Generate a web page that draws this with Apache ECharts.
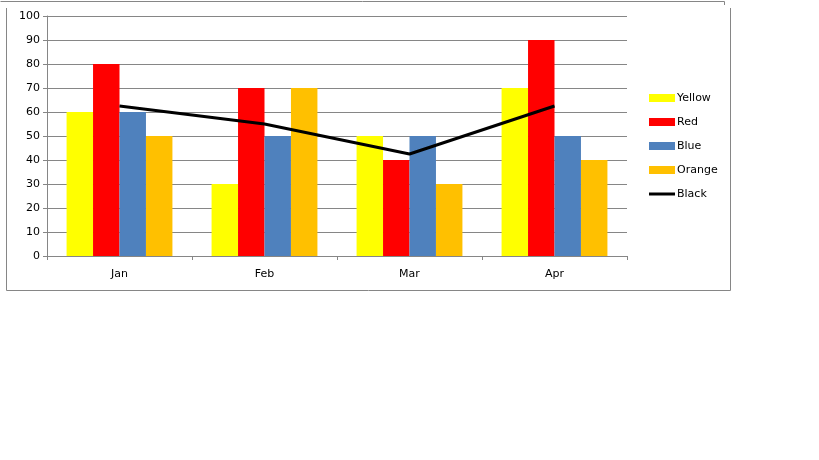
<!DOCTYPE html>
<html><head><meta charset="utf-8">
<script src="https://cdn.jsdelivr.net/npm/echarts@6/dist/echarts.min.js"></script>
<style>html,body{margin:0;padding:0;background:#fff}#c{width:819px;height:460px}</style>
</head><body><div id="c"></div>
<script>
const categories = ['Jan', 'Feb', 'Mar', 'Apr'];
const yellow = [60, 30, 50, 70];
const red = [80, 70, 40, 90];
const blue = [60, 50, 50, 50];
const orange = [50, 70, 30, 40];
const black = [62.5, 55, 42.5, 62.5];

const chart = echarts.init(document.getElementById('c'));
const font = 'DejaVu Sans';
const gray = '#868686';
function bar(name, data, color) {
  return { name, type: 'bar', data, barGap: '0%', barCategoryGap: '27%',
    itemStyle: { color }, emphasis: { disabled: true } };
}
const legendText = { fontFamily: font, fontSize: 11, color: '#000', lineHeight: 14, padding: [0, 0, 0, -3] };
chart.setOption({
  animation: false,
  textStyle: { fontFamily: font },
  graphic: [
    { type: 'polyline', shape: { points: [[0.5, 1.5], [724.5, 1.5], [724.5, 5]] }, style: { stroke: gray, lineWidth: 1, fill: null } },
    { type: 'polyline', shape: { points: [[6.5, 8], [6.5, 290.5], [730.5, 290.5], [730.5, 8]] }, style: { stroke: gray, lineWidth: 1, fill: null } }
  ],
  grid: { left: 47, right: 192, top: 16, bottom: 204 },
  legend: [{
    orient: 'vertical', left: 649, top: 91, padding: 0, itemWidth: 26, itemHeight: 8, itemGap: 10,
    icon: 'rect', textStyle: legendText,
    data: ['Yellow', 'Red', 'Blue', 'Orange']
  }, {
    orient: 'vertical', left: 649, top: 187, padding: 0, itemWidth: 26, itemHeight: 3,
    icon: 'rect', textStyle: legendText,
    data: ['Black']
  }],
  xAxis: {
    type: 'category', data: categories,
    axisLine: { lineStyle: { color: gray } },
    axisTick: { show: true, length: 4, lineStyle: { color: gray } },
    axisLabel: { color: '#000', fontSize: 11, fontFamily: font, margin: 13 }
  },
  yAxis: {
    type: 'value', min: 0, max: 100, interval: 10,
    axisLine: { show: true, lineStyle: { color: gray } },
    axisTick: { show: true, length: 4, lineStyle: { color: gray } },
    axisLabel: { color: '#000', fontSize: 11, fontFamily: font, margin: 7 },
    splitLine: { lineStyle: { color: gray } }
  },
  series: [
    bar('Yellow', yellow, '#FFFF00'),
    bar('Red', red, '#FF0000'),
    bar('Blue', blue, '#4F81BD'),
    bar('Orange', orange, '#FFC000'),
    { name: 'Black', type: 'line', data: black, symbol: 'none', color: '#000',
      lineStyle: { color: '#000', width: 3 }, emphasis: { disabled: true } }
  ]
});
</script></body></html>
